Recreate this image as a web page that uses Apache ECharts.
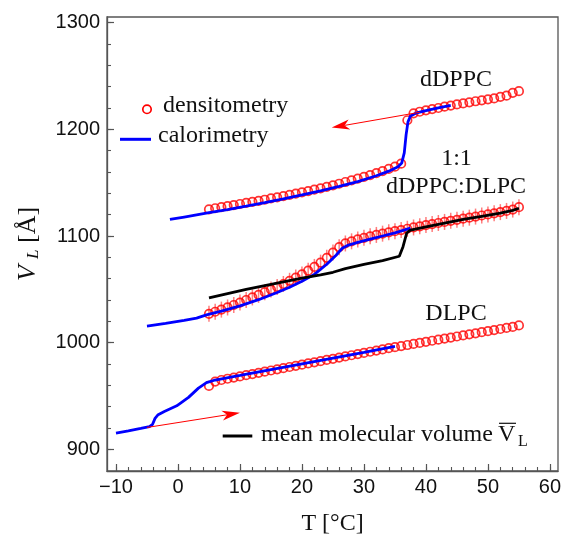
<!DOCTYPE html>
<html><head><meta charset="utf-8">
<script src="https://cdn.jsdelivr.net/npm/echarts@6/dist/echarts.min.js"></script>
<style>html,body{margin:0;padding:0;background:#fff}#c{width:561px;height:536px}</style>
</head><body><div id="c"></div>
<script>
// ---------- data ----------
const densT = [5,6,7,8,9,10,11,12,13,14,15,16,17,18,19,20,21,22,23,24,25,26,27,28,29,30,
  31,32,33,34,35,36,37,38,39,40,41,42,43,44,45,46,47,48,49,50,51,52,53,54,55];
const dppcDens = [1125,1126,1127,1128,1129,1130,1131,1132,1133,1134,1135.2,1136.3,1137.4,1138.5,1139.7,1140.9,
  1142.1,1143.4,1144.7,1146.1,1147.5,1149,1150.6,1152.2,1153.8,1155.4,1157.1,1158.9,1160.9,1162.9,1165,1167.8,
  1208.5,1215,1216.5,1217.8,1219,1220,1221.2,1222.3,1223.3,1224.3,1225.3,1226.3,1227.2,1228.1,1229,1230.5,1231.5,1234.2,1235.8];
const mixDens = [1027,1029,1031,1033,1035.3,1037.6,1040,1042.4,1044.8,1047.3,1049.8,1052.3,1055,1058,1061,1064,
  1067.5,1071,1075,1079.5,1084.5,1089.5,1093,1095,1096.8,1098.3,1099.7,1101,1102.2,1103.4,1104.5,1105.6,
  1106.8,1108,1109.1,1110.2,1111.2,1112.2,1113.2,1114.2,1115.2,1116.2,1117.2,1118.2,1119.2,1120.2,1121.3,1122.4,1123.5,1124.8,1127];
const mixErr = 7.5;
const dlpcDens = [959.5,963.5,965,966.2,967.3,968.4,969.5,970.6,971.7,972.8,973.9,975,976.1,977.2,978.3,979.4,
  980.5,981.6,982.7,983.8,984.9,986,987.1,988.2,989.3,990.4,991.5,992.6,993.7,994.8,995.8,996.8,997.8,998.8,
  999.8,1000.8,1001.8,1002.8,1003.8,1004.8,1005.8,1006.8,1007.8,1008.8,1009.8,1010.8,1011.8,1012.8,1013.8,1014.8,1016.2];
const dppcCal = [[-1.3,1115.5],[1,1117.8],[3,1119.8],[5,1121.8],[8,1124.8],[11,1128],[14,1131.3],[17,1134.8],
  [20,1138.5],[23,1142.3],[26,1146.5],[29,1151],[32,1156.5],[34,1160.8],[35.5,1165],[36.1,1168.5],[36.5,1178],
  [36.8,1195],[37.1,1207],[37.5,1212.5],[38.5,1215.5],[40,1217.5],[42,1220],[44,1222.5]];
const mixCal = [[-5,1015.5],[-2,1018],[1,1020.8],[3,1023],[4.6,1026],[7,1029.5],[10,1034.5],[13,1040.3],[16,1047],
  [18,1052],[20,1057.5],[22,1064],[24,1073.5],[25.5,1082],[26.5,1088.5],[27.5,1091.5],[29,1094],[31,1097],[33,1100],
  [35,1103],[37.5,1107.3]];
const mixMean = [[5,1042],[8,1046],[11,1050],[14,1053.5],[17,1057],[20,1060.5],[23,1063.5],[25,1066],[27,1069.5],
  [30,1073.5],[33,1077],[35.7,1081],[36.3,1090],[36.9,1103],[37.5,1105.5],[40,1108.5],[43,1112],[46,1115.5],
  [49,1118.5],[52,1121.5],[54,1124],[55,1126]];
const dlpcCal = [[-10,915.2],[-8,917.3],[-6,919.6],[-4.6,921.3],[-4.1,923.5],[-3.7,929],[-3.2,932.5],[-2.2,935.5],
  [-0.2,940.8],[1.7,948.7],[3.3,957.4],[4.6,962.5],[6,965],[10,969.3],[15,974.8],[20,980.2],[25,985.6],[30,991],[35,996.5]];
const arrowsData = [[-5,920.5,10,934.3],[39,1216,24.8,1201.6]];
const xMajor = [-10,0,10,20,30,40,50,60];
const xMinor = [-10,-8,-6,-4,-2,0,2,4,6,8,10,12,14,16,18,20,22,24,26,28,30,32,34,36,38,40,42,44,46,48,50,52,54,56,58,60];
const yMajor = [900,1000,1100,1200,1300];
const yMinor = [900,920,940,960,980,1000,1020,1040,1060,1080,1100,1120,1140,1160,1180,1200,1220,1240,1260,1280,1300];

// ---------- chart ----------
const AX = '#555';
const SERIF = 'Liberation Serif';
const SANS = 'Liberation Sans';
const zip = (xs, ys) => xs.map((x, i) => [x, ys[i]]);
const chart = echarts.init(document.getElementById('c'), null, {renderer: 'canvas'});
const xRange = {min: -11.45, max: 61.3};
const yRange = {min: 879.7, max: 1305.3};

const circleStyle = {color: 'rgba(0,0,0,0)', borderColor: '#ff0000', borderWidth: 1.7};
function scatter(data, z) {
  return {type: 'scatter', data: data, symbol: 'circle', symbolSize: 8.5, itemStyle: circleStyle, z: z, silent: true};
}
function line(data, color, z) {
  return {type: 'line', data: data, showSymbol: false, symbol: 'none', lineStyle: {color: color, width: 2.8}, z: z, silent: true};
}
const hiddenLine = {show: true, onZero: false, lineStyle: {color: AX, opacity: 0}};
const errSegments = zip(densT, mixDens).map(d => [d[0], d[1] - mixErr, d[0], d[1] + mixErr]);

const option = {
  animation: false,
  backgroundColor: '#fff',
  grid: {left: 107, top: 17, width: 451, height: 454, outerBoundsMode: 'none', containLabel: false,
         show: true, borderColor: AX, borderWidth: 1.3, backgroundColor: 'transparent'},
  xAxis: [
    {type: 'value', ...xRange, position: 'bottom',
     axisLine: {show: true, onZero: false, lineStyle: {color: AX, width: 1.3}},
     axisTick: {show: true, inside: true, length: 7, customValues: xMajor, lineStyle: {color: AX, width: 1.2}},
     axisLabel: {customValues: xMajor, fontSize: 20, fontFamily: SANS, color: '#111', margin: 6,
       formatter: v => v < 0 ? '\u2212' + Math.abs(v) : String(v)},
     splitLine: {show: false},
     name: 'T [\u00B0C]', nameLocation: 'middle', nameGap: 41,
     nameTextStyle: {fontSize: 24, fontFamily: SERIF, color: '#111'}},
    {type: 'value', ...xRange, position: 'bottom',
     axisLine: hiddenLine, axisLabel: {show: false}, splitLine: {show: false},
     axisTick: {show: true, inside: true, length: 4, customValues: xMinor, lineStyle: {color: AX, width: 1.1}}}
  ],
  yAxis: [
    {type: 'value', ...yRange, position: 'left',
     axisLine: {show: true, onZero: false, lineStyle: {color: AX, width: 1.3}},
     axisTick: {show: true, inside: true, length: 7, customValues: yMajor, lineStyle: {color: AX, width: 1.2}},
     axisLabel: {customValues: yMajor, fontSize: 20, fontFamily: SANS, color: '#111', margin: 7,
       formatter: v => String(v)},
     splitLine: {show: false}},
    {type: 'value', ...yRange, position: 'left',
     axisLine: hiddenLine, axisLabel: {show: false}, splitLine: {show: false},
     axisTick: {show: true, inside: true, length: 4, customValues: yMinor, lineStyle: {color: AX, width: 1.1}}}
  ],
  series: [
    scatter(zip(densT, dppcDens), 2),
    scatter(zip(densT, mixDens), 2),
    scatter(zip(densT, dlpcDens), 2),
    {type: 'custom', z: 2, silent: true, data: errSegments, encode: {x: [0, 2], y: [1, 3]},
     renderItem: function (params, api) {
       const a = api.coord([api.value(0), api.value(1)]);
       const b = api.coord([api.value(2), api.value(3)]);
       return {type: 'line', shape: {x1: a[0], y1: a[1], x2: b[0], y2: b[1]},
               style: {stroke: 'rgba(255,40,40,0.6)', lineWidth: 1.5}};
     }},
    line(dppcCal, '#0000ff', 3),
    line(mixCal, '#0000ff', 3),
    line(dlpcCal, '#0000ff', 3),
    line(mixMean, '#000000', 4),
    {type: 'custom', z: 5, silent: true, data: arrowsData, encode: {x: [0, 2], y: [1, 3]},
     renderItem: function (params, api) {
       const a = api.coord([api.value(0), api.value(1)]);
       const b = api.coord([api.value(2), api.value(3)]);
       const dx = b[0] - a[0], dy = b[1] - a[1];
       const L = Math.sqrt(dx * dx + dy * dy), ux = dx / L, uy = dy / L;
       const hl = 18, hw = 5, notch = 13;
       const back = [b[0] - ux * hl, b[1] - uy * hl];
       const nb = [b[0] - ux * notch, b[1] - uy * notch];
       const left = [back[0] - uy * hw, back[1] + ux * hw];
       const right = [back[0] + uy * hw, back[1] - ux * hw];
       return {type: 'group', children: [
         {type: 'line', shape: {x1: a[0], y1: a[1], x2: nb[0], y2: nb[1]}, style: {stroke: '#ff0000', lineWidth: 1}},
         {type: 'polygon', shape: {points: [b, left, nb, right]}, style: {fill: '#ff0000'}}
       ]};
     }}
  ],
  graphic: [
    // legend
    {type: 'circle', shape: {cx: 147, cy: 109.3, r: 4.2}, style: {fill: 'none', stroke: '#ff0000', lineWidth: 1.7}, z: 10},
    {type: 'text', x: 163, y: 105.5, style: {text: 'densitometry', font: '24px "Liberation Serif"', fill: '#111', verticalAlign: 'middle'}, z: 10},
    {type: 'line', shape: {x1: 120, y1: 139.3, x2: 151, y2: 139.3}, style: {stroke: '#0000ff', lineWidth: 3}, z: 10},
    {type: 'text', x: 158, y: 135.5, style: {text: 'calorimetry', font: '24px "Liberation Serif"', fill: '#111', verticalAlign: 'middle'}, z: 10},
    {type: 'line', shape: {x1: 222.7, y1: 436, x2: 252.3, y2: 436}, style: {stroke: '#000', lineWidth: 3}, z: 10},
    {type: 'text', x: 261, y: 435, style: {text: 'mean molecular volume', font: '24px "Liberation Serif"', fill: '#111', verticalAlign: 'middle'}, z: 10},
    {type: 'text', x: 498, y: 435, style: {text: 'V', font: '24px "Liberation Serif"', fill: '#111', verticalAlign: 'middle'}, z: 10},
    {type: 'line', shape: {x1: 499, y1: 423.3, x2: 516, y2: 423.3}, style: {stroke: '#111', lineWidth: 1.2}, z: 10},
    {type: 'text', x: 518, y: 441.5, style: {text: 'L', font: '16px "Liberation Serif"', fill: '#111', verticalAlign: 'middle'}, z: 10},
    // series annotations
    {type: 'text', x: 456, y: 80, style: {text: 'dDPPC', font: '24px "Liberation Serif"', fill: '#111', align: 'center', verticalAlign: 'middle'}, z: 10},
    {type: 'text', x: 456.5, y: 158.5, style: {text: '1:1', font: '24px "Liberation Serif"', fill: '#111', align: 'center', verticalAlign: 'middle'}, z: 10},
    {type: 'text', x: 456, y: 186.5, style: {text: 'dDPPC:DLPC', font: '24px "Liberation Serif"', fill: '#111', align: 'center', verticalAlign: 'middle'}, z: 10},
    {type: 'text', x: 456, y: 313.5, style: {text: 'DLPC', font: '24px "Liberation Serif"', fill: '#111', align: 'center', verticalAlign: 'middle'}, z: 10},
    // y axis name
    {type: 'group', x: 37, y: 281, rotation: Math.PI / 2, z: 10, children: [
      {type: 'text', x: 0, y: -9, style: {text: 'V', font: 'italic 26px "Liberation Serif"', fill: '#111', verticalAlign: 'middle'}},
      {type: 'text', x: 22, y: -3, style: {text: 'L', font: 'italic 17px "Liberation Serif"', fill: '#111', verticalAlign: 'middle'}},
      {type: 'text', x: 38, y: -9, style: {text: '[\u00C5]', font: '26px "Liberation Serif"', fill: '#111', verticalAlign: 'middle'}}
    ]}
  ]
};
chart.setOption(option);
</script>
</body></html>
